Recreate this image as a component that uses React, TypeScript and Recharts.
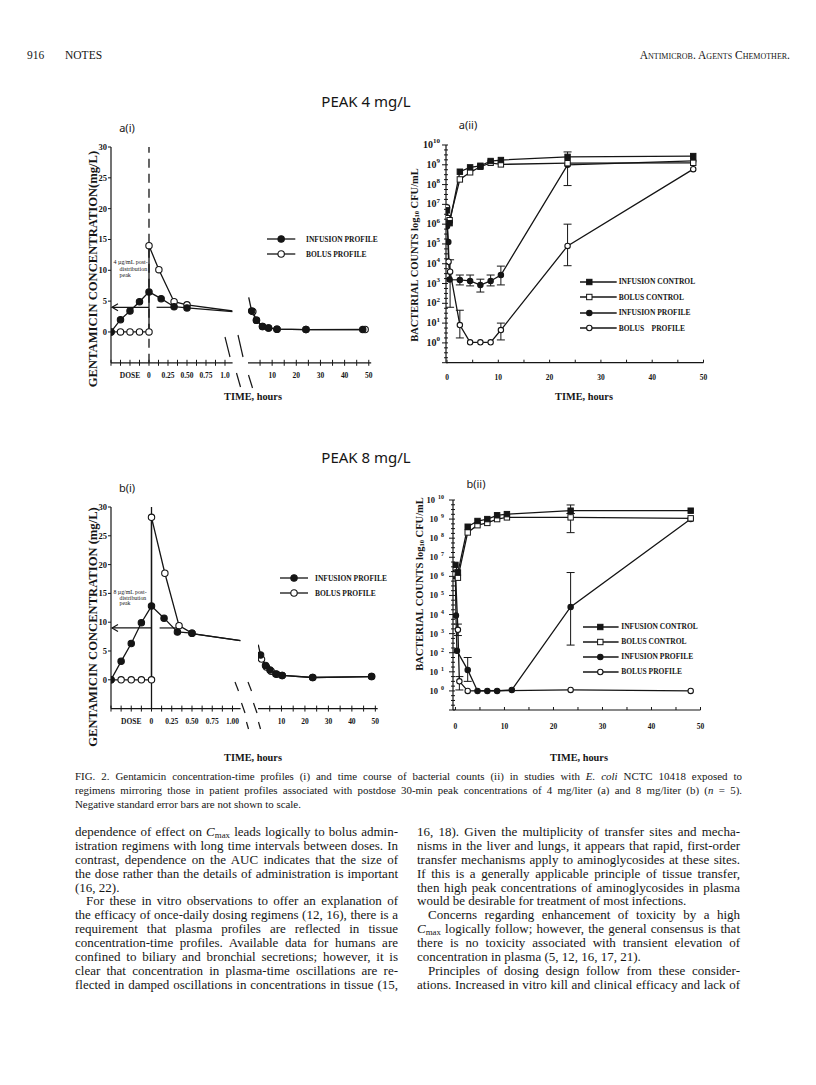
import React from 'react';
import { LineChart, Line, XAxis, YAxis, ReferenceLine, ErrorBar, Legend } from 'recharts';

const INK = '#151515';
const SERIF = '"Liberation Serif", "Times New Roman", serif';
const SANS = '"Noto Sans", "DejaVu Sans", sans-serif';

const INF_P = 'INFUSION PROFILE';
const BOL_P = 'BOLUS PROFILE';
const INF_C = 'INFUSION CONTROL';
const BOL_C = 'BOLUS CONTROL';

// ---- axis ticks / labels ----
const doseTicks = [-0.5, -0.375, -0.25, -0.125, 0, 0.125, 0.25, 0.375, 0.5, 0.625, 0.75, 0.875, 1];
const doseLabelsA = ['', '', 'DOSE', '', '0', '', '0.25', '', '0.50', '', '0.75', '', '1.0'];
const doseLabelsB = ['', '', 'DOSE', '', '0', '', '0.25', '', '0.50', '', '0.75', '', '1.00'];
const lateTicks = [5, 10, 15, 20, 25, 30, 35, 40, 45, 50];
const lateLabels = ['', '10', '', '20', '', '30', '', '40', '', '50'];
const concTicks = [0, 5, 10, 15, 20, 25, 30];
const hourTicks = [0, 5, 10, 15, 20, 25, 30, 35, 40, 45, 50];
const hourLabels = ['0', '', '10', '', '20', '', '30', '', '40', '', '50'];
const logDecades = [-1, 0, 1, 2, 3, 4, 5, 6, 7, 8, 9, 10];
const logTicks = logDecades.flatMap((d) => (d < 10 ? [d, d + 0.25, d + 0.5, d + 0.75] : [d]));

// ---- a(i): gentamicin, 4 mg/L peak (hours) ----
const aInfTimes = [-0.5, -0.375, -0.25, -0.125, 0, 0.16, 0.33, 0.5];
const aInfConc = [0, 2.0, 3.4, 4.9, 6.5, 5.4, 4.1, 3.9];
const aBolTimes = [-0.5, -0.375, -0.25, -0.125, 0, 0, 0.13, 0.33, 0.5];
const aBolConc = [0, 0, 0, 0, 0, 14, 10.1, 4.9, 4.4];
const aTailTimes = [0.5, 1.1];
const aInfTail = [3.9, 3.3];
const aBolTail = [4.4, 3.4];
const aHeadTimes = [0.3, 1.5];
const aHeadConc = [5.6, 3.4];
const aInfLateTimes = [1.5, 3.5, 6, 8.5, 12, 24, 47.5];
const aInfLate = [3.4, 1.9, 0.9, 0.65, 0.45, 0.38, 0.38];
const aBolLateTimes = [2, 3.5, 6, 8.5, 12, 24, 48.5];
const aBolLate = [3.3, 1.9, 0.9, 0.65, 0.45, 0.38, 0.4];
const aPostPeak = 4;

// ---- b(i): gentamicin, 8 mg/L peak ----
const bInfTimes = [-0.5, -0.375, -0.25, -0.125, 0, 0.155, 0.32, 0.5];
const bInfConc = [0, 3.2, 6.3, 9.9, 12.8, 10.7, 8.3, 8.1];
const bBolTimes = [-0.5, -0.375, -0.25, -0.125, 0, 0, 0.165, 0.34, 0.5];
const bBolConc = [0, 0, 0, 0, 0, 28.2, 18.5, 9.4, 8.1];
const bTailTimes = [0.5, 1.1];
const bInfTail = [8.0, 6.8];
const bHeadTimes = [0.1, 1.1];
const bHeadConc = [6.1, 4.3];
const bInfLateTimes = [1.1, 3.2, 5.1, 7.6, 10.3, 23.3, 48.4];
const bInfLate = [4.3, 2.5, 1.7, 1.0, 0.75, 0.4, 0.55];
const bBolLateTimes = [1.5, 3.6, 5.6, 8, 10.3, 23.3, 48.4];
const bBolLate = [3.6, 2.2, 1.5, 0.95, 0.75, 0.4, 0.55];
const bPostPeak = 9;

// ---- a(ii): bacterial counts, log10 CFU/mL ----
const aCtlTimes = [0, 0.5, 2.5, 4.5, 6.5, 8.5, 10.5, 23.5, 48];
const aInfCtl = [6.7, 6.05, 8.65, 8.87, 8.95, 9.19, 9.24, 9.4, 9.44];
const aBolCtl = [6.3, 6.2, 8.26, 8.62, 8.9, 9.1, 9.02, 9.08, 9.1];
const aInfProfTimes = [0, 0.25, 0.5, 2.5, 4.5, 6.5, 8.5, 10.5, 23.5, 48];
const aInfProf = [5.9, 5.1, 3.2, 3.18, 3.13, 2.92, 3.13, 3.43, 9.0, 9.2];
const aInfProfErr = [null, null, null, [0.25, 0.25], [0.25, 0.3], [0.35, 0.3], [0.25, 0.3], [0.5, 0.45], [1.05, 0.65], null];
const aBolProfTimes = [0, 0.3, 0.6, 2.5, 4.5, 6.5, 8.5, 10.5, 23.5, 48];
const aBolProf = [6.85, 4.1, 3.6, 0.9, 0.03, 0.03, 0.03, 0.65, 4.9, 8.78];
const aBolProfErr = [null, null, [1.8, 0.6], [0.65, 0.75], null, null, null, [0.5, 0.35], [1.0, 1.1], null];

// ---- b(ii) ----
const bCtlTimes = [0, 0.5, 2.5, 4.5, 6.5, 8.5, 10.5, 23.5, 48];
const bInfCtl = [6.6, 6.2, 8.6, 8.9, 9.0, 9.2, 9.26, 9.44, 9.44];
const bInfCtlErr = [null, null, null, null, null, null, null, [0.15, 0.3], null];
const bBolCtl = [6.1, 5.93, 8.3, 8.68, 8.8, 9.0, 9.09, 9.09, 9.04];
const bBolCtlErr = [null, null, null, null, null, null, null, [0.8, 0.2], null];
const bInfProfTimes = [0, 0.1, 0.3, 2.5, 4.5, 6.5, 8.5, 11.5, 23.5, 48];
const bInfProf = [6.0, 3.95, 2.1, 1.1, 0, 0, 0, 0.05, 4.4, 9.0];
const bInfProfErr = [null, null, null, [0.6, 0.65], null, null, null, null, [2.0, 1.8], null];
const bBolProfTimes = [0, 0.5, 0.8, 2.5, 23.5, 48];
const bBolProf = [6.2, 3.2, 0.5, 0, 0.05, 0];
const bBolProfErr = [null, [0.3, 0.3], [0.45, 0.25], null, null, null];

// ---- text ----
const captionLines = [
  'FIG. 2. Gentamicin concentration-time profiles (i) and time course of bacterial counts (ii) in studies with *E. coli* NCTC 10418 exposed to',
  'regimens mirroring those in patient profiles associated with postdose 30-min peak concentrations of 4 mg/liter (a) and 8 mg/liter (b) (*n* = 5).',
  'Negative standard error bars are not shown to scale.',
];
const leftColumn = [
  'dependence of effect on C_max leads logically to bolus admin-',
  'istration regimens with long time intervals between doses. In',
  'contrast, dependence on the AUC indicates that the size of',
  'the dose rather than the details of administration is important',
  '(16, 22).',
  'For these in vitro observations to offer an explanation of',
  'the efficacy of once-daily dosing regimens (12, 16), there is a',
  'requirement that plasma profiles are reflected in tissue',
  'concentration-time profiles. Available data for humans are',
  'confined to biliary and bronchial secretions; however, it is',
  'clear that concentration in plasma-time oscillations are re-',
  'flected in damped oscillations in concentrations in tissue (15,',
];
const rightColumn = [
  '16, 18). Given the multiplicity of transfer sites and mecha-',
  'nisms in the liver and lungs, it appears that rapid, first-order',
  'transfer mechanisms apply to aminoglycosides at these sites.',
  'If this is a generally applicable principle of tissue transfer,',
  'then high peak concentrations of aminoglycosides in plasma',
  'would be desirable for treatment of most infections.',
  'Concerns regarding enhancement of toxicity by a high',
  'C_max logically follow; however, the general consensus is that',
  'there is no toxicity associated with transient elevation of',
  'concentration in plasma (5, 12, 16, 17, 21).',
  'Principles of dosing design follow from these consider-',
  'ations. Increased in vitro kill and clinical efficacy and lack of',
];

type Row = { t: number; v: number; err: number[] | null };
const rows = (ts: number[], vs: number[], es?: (number[] | null)[]): Row[] =>
  ts.map((t, i) => ({ t, v: vs[i], err: es ? es[i] : null }));

const seriesKind: Record<string, string> = {
  [INF_P]: 'filled-circle',
  [BOL_P]: 'open-circle',
  [INF_C]: 'filled-square',
  [BOL_C]: 'open-square',
};

const marker = (kind: string, r: number) => (p: any) => {
  const { cx, cy, index } = p;
  const k = `m-${index}`;
  if (cx == null || cy == null) return <g key={k} />;
  const fill = kind.startsWith('filled') ? INK : '#fff';
  if (kind.endsWith('square'))
    return <rect key={k} x={cx - r} y={cy - r} width={r * 2} height={r * 2} fill={fill} stroke={INK} strokeWidth={1} />;
  return <circle key={k} cx={cx} cy={cy} r={r} fill={fill} stroke={INK} strokeWidth={1.1} />;
};

const series = (id: string, name: string, data: Row[], r: number, withErr = false) => (
  <Line
    key={id}
    name={name}
    data={data}
    dataKey="v"
    type="linear"
    stroke={INK}
    strokeWidth={1.3}
    dot={r > 0 ? marker(seriesKind[name], r) : false}
    activeDot={false}
    legendType={r > 0 ? 'line' : 'none'}
    isAnimationActive={false}
  >
    {withErr && <ErrorBar dataKey="err" width={4} stroke={INK} strokeWidth={1} direction="y" />}
  </Line>
);

const axisLine = { stroke: INK, strokeWidth: 1.2 };

const xTick = (ticks: number[], labels: string[], dy: number, font: number, up: number, down: number) => (p: any) => {
  const { x, y, payload } = p;
  const lab = labels[ticks.indexOf(payload.value)] ?? '';
  return (
    <g>
      <line x1={x} y1={y - up} x2={x} y2={y + down} stroke={INK} strokeWidth={1} />
      {lab && (
        <text x={x} y={y + dy} textAnchor="middle" fontFamily={SERIF} fontWeight={700} fontSize={font} fill={INK}>
          {lab}
        </text>
      )}
    </g>
  );
};

const concTick = (p: any) => {
  const { x, y, payload } = p;
  return (
    <g>
      <line x1={x - 3} y1={y} x2={x} y2={y} stroke={INK} strokeWidth={1} />
      <text x={x - 4} y={y + 3} textAnchor="end" fontFamily={SERIF} fontWeight={700} fontSize={8.5} fill={INK}>
        {payload.value}
      </text>
    </g>
  );
};

const logTick = (font: number, gap: number, sep: number) => (p: any) => {
  const { x, y, payload } = p;
  const v = payload.value;
  const major = Number.isInteger(v);
  return (
    <g>
      <line x1={x - (major ? 4 : 2)} y1={y} x2={x + 2} y2={y} stroke={INK} strokeWidth={1} />
      {major && v >= 0 && (
        <text x={x - gap} y={y + 3} textAnchor="end" fontFamily={SERIF} fontWeight={700} fontSize={font} fill={INK}>
          10
          <tspan dx={sep} dy={-font * 0.45} fontSize={font * 0.7}>
            {v}
          </tspan>
        </text>
      )}
    </g>
  );
};

const arrowShape = (p: any) => {
  const x1 = Math.min(p.x1, p.x2);
  const x2 = Math.max(p.x1, p.x2);
  const y = p.y1;
  return (
    <g>
      <line x1={x1 + 1} y1={y} x2={x2} y2={y} stroke={INK} strokeWidth={1.2} />
      <path d={`M${x1 + 7},${y - 3.5} L${x1 + 1},${y} L${x1 + 7},${y + 3.5}`} fill="none" stroke={INK} strokeWidth={1.2} />
    </g>
  );
};

type LegendOpt = { rowH: number; lineW: number; markX: number; r: number; gap: number; font: number; alias?: Record<string, string> };
const legendRenderer = (order: string[], o: LegendOpt) => (props: any) => {
  const seen = new Set<string>();
  const items = (props.payload ?? [])
    .filter((it: any) => it.type !== 'none' && order.includes(it.value))
    .filter((it: any) => (seen.has(it.value) ? false : (seen.add(it.value), true)))
    .sort((a: any, b: any) => order.indexOf(a.value) - order.indexOf(b.value));
  return (
    <div>
      {items.map((it: any) => (
        <div key={it.value} style={{ display: 'flex', alignItems: 'center', height: o.rowH }}>
          <svg width={o.lineW} height={10} style={{ overflow: 'visible' }}>
            <line x1={0} y1={5} x2={o.lineW} y2={5} stroke={INK} strokeWidth={1.3} />
            {marker(seriesKind[it.value], o.r)({ cx: o.markX, cy: 5, index: 0 })}
          </svg>
          <span style={{ marginLeft: o.gap, fontFamily: SERIF, fontWeight: 700, fontSize: o.font, color: INK, whiteSpace: 'pre' }}>
            {o.alias?.[it.value] ?? it.value}
          </span>
        </div>
      ))}
    </div>
  );
};

type Box = { left: number; top: number; w: number; h: number };
const PAD = 14;
const X_H = 30;

function Frame({ box, yW, children }: { box: Box; yW: number; children: React.ReactNode }) {
  return (
    <div style={{ position: 'absolute', left: box.left - yW, top: box.top - PAD }}>
      <LineChart width={yW + box.w + 6} height={PAD + box.h + X_H} margin={{ top: PAD, right: 6, bottom: 0, left: 0 }}>
        {children}
      </LineChart>
    </div>
  );
}

// plot boxes (page pixels)
const boxAiL: Box = { left: 110.7, top: 146.7, w: 121.6, h: 215.8 };
const boxAiR: Box = { left: 247.5, top: 146.7, w: 123.2, h: 215.8 };
const boxBiL: Box = { left: 111.2, top: 506.7, w: 129.6, h: 201.6 };
const boxBiR: Box = { left: 258, top: 506.7, w: 119.7, h: 201.6 };
const boxAii: Box = { left: 445.7, top: 145, w: 257.5, h: 217.7 };
const boxBii: Box = { left: 452.5, top: 500, w: 247.5, h: 210 };

const concLegend = [INF_P, BOL_P];
const countLegend = [INF_C, BOL_C, INF_P, BOL_P];

function rich(text: string) {
  return text
    .split(/(\*[^*]+\*|C_max)/)
    .filter((s) => s.length > 0)
    .map((s, i) => {
      if (s === 'C_max')
        return (
          <span key={i}>
            <i>C</i>
            <span style={{ fontSize: '0.68em', verticalAlign: '-0.18em', lineHeight: 0 }}>max</span>
          </span>
        );
      if (s.startsWith('*')) return <i key={i}>{s.slice(1, -1)}</i>;
      return <span key={i}>{s}</span>;
    });
}

function TextBlock({ x, top, step, width, size, lines, ends, indents }: {
  x: number; top: number; step: number; width: number; size: number; lines: string[]; ends: number[]; indents: number[];
}) {
  return (
    <div style={{ position: 'absolute', left: x, top, width, fontFamily: SERIF, fontSize: size, color: INK }}>
      {lines.map((ln, i) => {
        const justify = !ends.includes(i);
        return (
          <div key={i} style={{
            height: step, lineHeight: `${step}px`, whiteSpace: 'nowrap',
            paddingLeft: indents.includes(i) ? 11 : 0,
            textAlign: justify ? 'justify' : 'left', textAlignLast: justify ? 'justify' : 'left',
          }}>
            {rich(ln)}
          </div>
        );
      })}
    </div>
  );
}

function ConcLeft({ box, labels, inf, bol, infTail, bolTail, peak, dashedZero, peakTo }: any) {
  return (
    <Frame box={box} yW={34}>
      <XAxis type="number" dataKey="t" domain={[-0.5, 1.1]} ticks={doseTicks} interval={0} allowDataOverflow height={X_H}
        tickSize={0} tickMargin={0} tickLine={false} axisLine={axisLine} tick={xTick(doseTicks, labels, 15.5, 7.5, 3, 3)} />
      <YAxis type="number" domain={[-5, 30]} ticks={concTicks} interval={0} allowDataOverflow width={34}
        tickSize={0} tickMargin={0} tickLine={false} axisLine={axisLine} tick={concTick} />
      <ReferenceLine x={0} stroke={INK} strokeWidth={1.3} strokeDasharray={dashedZero ? '9 6' : undefined} />
      <ReferenceLine segment={[{ x: -0.5, y: peak }, { x: 0, y: peak }]} shape={arrowShape} />
      <ReferenceLine segment={[{ x: 0.1, y: peak }, { x: peakTo, y: peak }]} stroke={INK} strokeWidth={1.2} />
      {series('bt', 'bolus tail', bolTail, 0)}
      {series('it', 'infusion tail', infTail, 0)}
      {series('b', BOL_P, bol, 3.2)}
      {series('i', INF_P, inf, 3.2)}
    </Frame>
  );
}

function ConcRight({ box, head, inf, bol, legendAt, lineW, gap }: any) {
  return (
    <Frame box={box} yW={0}>
      <XAxis type="number" dataKey="t" domain={[0, 51]} ticks={lateTicks} interval={0} allowDataOverflow height={X_H}
        tickSize={0} tickMargin={0} tickLine={false} axisLine={axisLine} tick={xTick(lateTicks, lateLabels, 15.5, 7.5, 3, 3)} />
      <YAxis type="number" domain={[-5, 30]} hide allowDataOverflow />
      {series('h', 'head', head, 0)}
      {series('b', BOL_P, bol, 3.2)}
      {series('i', INF_P, inf, 3.2)}
      <Legend layout="vertical" align="center" verticalAlign="middle"
        wrapperStyle={{ left: legendAt[0] - box.left, top: legendAt[1] - box.top + PAD, width: 'auto' }}
        content={legendRenderer(concLegend, { rowH: 15, lineW, markX: lineW / 2, r: 3.2, gap, font: 7.5 })} />
    </Frame>
  );
}

function CountChart({ box, xMin, tickDy, yFont, yGap, ySep, infCtl, bolCtl, infProf, bolProf, legendAt, legend }: any) {
  return (
    <Frame box={box} yW={36}>
      <XAxis type="number" dataKey="t" domain={[xMin, 50]} ticks={hourTicks} interval={0} allowDataOverflow height={X_H}
        tickSize={0} tickMargin={0} tickLine={false} axisLine={axisLine} tick={xTick(hourTicks, hourLabels, tickDy, 7.5, 3, 0)} />
      <YAxis type="number" domain={[-1, 10]} ticks={logTicks} interval={0} allowDataOverflow width={36}
        tickSize={0} tickMargin={0} tickLine={false} axisLine={axisLine} tick={logTick(yFont, yGap, ySep)} />
      {series('bp', BOL_P, bolProf, 2.7, true)}
      {series('ip', INF_P, infProf, 2.7, true)}
      {series('bc', BOL_C, bolCtl, 2.7, true)}
      {series('ic', INF_C, infCtl, 2.7, true)}
      <Legend layout="vertical" align="center" verticalAlign="middle"
        wrapperStyle={{ left: legendAt[0] - box.left + 36, top: legendAt[1] - box.top + PAD, width: 'auto' }}
        content={legendRenderer(countLegend, legend)} />
    </Frame>
  );
}

const title = (x: number, y: number, s: string, size: number) => (
  <text x={x} y={y} textAnchor="middle" fontFamily={SANS} fontSize={size} fill={INK}>{s}</text>
);
const vTitle = (cx: number, cy: number, size: number, body: React.ReactNode) => (
  <text transform={`translate(${cx},${cy}) rotate(-90)`} textAnchor="middle" dominantBaseline="central"
    fontFamily={SERIF} fontWeight={700} fontSize={size} fill={INK}>{body}</text>
);
const hTitle = (cx: number, cy: number) => (
  <text x={cx} y={cy} textAnchor="middle" dominantBaseline="central" fontFamily={SERIF} fontWeight={700} fontSize={10.3} fill={INK}>
    TIME, hours
  </text>
);
const countsTitle = (
  <>
    BACTERIAL COUNTS log<tspan fontSize={6.5} dy={2}>10</tspan>
    <tspan dy={-2}> CFU/mL</tspan>
  </>
);
const breakMark = (x1: number, y1: number, x2: number, y2: number, k: string) => (
  <line key={k} x1={x1} y1={y1} x2={x2} y2={y2} stroke={INK} strokeWidth={1.2} />
);
const note = (x: number, y: number, first: string, size: number, step: number) => (
  <g fontFamily={SERIF} fontSize={size} fill={INK}>
    <text x={x} y={y}>{first}</text>
    <text x={x + 6} y={y + step}>distribution</text>
    <text x={x + 6} y={y + step * 2}>peak</text>
  </g>
);

export default function App() {
  return (
    <div style={{ position: 'absolute', left: 0, top: 0, width: 816, height: 1085, background: '#fff', overflow: 'hidden' }}>
      <ConcLeft box={boxAiL} labels={doseLabelsA} inf={rows(aInfTimes, aInfConc)} bol={rows(aBolTimes, aBolConc)}
        infTail={rows(aTailTimes, aInfTail)} bolTail={rows(aTailTimes, aBolTail)} peak={aPostPeak} peakTo={0.33} dashedZero />
      <ConcRight box={boxAiR} head={rows(aHeadTimes, aHeadConc)} inf={rows(aInfLateTimes, aInfLate)} bol={rows(aBolLateTimes, aBolLate)}
        legendAt={[266.7, 231.8]} lineW={28.3} gap={11} />
      <ConcLeft box={boxBiL} labels={doseLabelsB} inf={rows(bInfTimes, bInfConc)} bol={rows(bBolTimes, bBolConc)}
        infTail={rows(bTailTimes, bInfTail)} bolTail={rows(bTailTimes, bInfTail)} peak={bPostPeak} peakTo={0.32} dashedZero={false} />
      <ConcRight box={boxBiR} head={rows(bHeadTimes, bHeadConc)} inf={rows(bInfLateTimes, bInfLate)} bol={rows(bBolLateTimes, bBolLate)}
        legendAt={[280, 570.8]} lineW={28} gap={7} />
      <CountChart box={boxAii} xMin={-0.2} tickDy={17} yFont={10} yGap={6} ySep={0}
        infCtl={rows(aCtlTimes, aInfCtl)} bolCtl={rows(aCtlTimes, aBolCtl)}
        infProf={rows(aInfProfTimes, aInfProf, aInfProfErr)} bolProf={rows(aBolProfTimes, aBolProf, aBolProfErr)}
        legendAt={[580, 274]} legend={{ rowH: 15.5, lineW: 36.7, markX: 9.3, r: 2.7, gap: 2, font: 7.5, alias: { [BOL_P]: 'BOLUS    PROFILE' } }} />
      <CountChart box={boxBii} xMin={-0.5} tickDy={19} yFont={8.5} yGap={9} ySep={3}
        infCtl={rows(bCtlTimes, bInfCtl, bInfCtlErr)} bolCtl={rows(bCtlTimes, bBolCtl, bBolCtlErr)}
        infProf={rows(bInfProfTimes, bInfProf, bInfProfErr)} bolProf={rows(bBolProfTimes, bBolProf, bBolProfErr)}
        legendAt={[582.7, 619.2]} legend={{ rowH: 15, lineW: 35.6, markX: 17.3, r: 2.7, gap: 3, font: 7.5 }} />

      <svg width={816} height={1085} style={{ position: 'absolute', left: 0, top: 0, pointerEvents: 'none' }}>
        {/* running head */}
        <text x={27} y={59} fontFamily={SERIF} fontSize={11.5} fill={INK}>916</text>
        <text x={65} y={59} fontFamily={SERIF} fontSize={11.5} fill={INK}>NOTES</text>
        <text x={790} y={59} textAnchor="end" fontFamily={SERIF} fontSize={11.5} fill={INK} style={{ fontVariant: 'small-caps' }}>
          Antimicrob. Agents Chemother.
        </text>

        {title(366, 107, 'PEAK 4 mg/L', 15)}
        {title(366, 463, 'PEAK 8 mg/L', 15)}
        {title(127, 132, 'a(i)', 11)}
        {title(468, 129, 'a(ii)', 11)}
        {title(127, 492, 'b(i)', 11)}
        {title(476, 488, 'b(ii)', 11)}

        {vTitle(93, 269, 12.6, 'GENTAMICIN CONCENTRATION(mg/L)')}
        {vTitle(93, 627, 12.6, 'GENTAMICIN CONCENTRATION (mg/L)')}
        {vTitle(414, 255, 10.5, countsTitle)}
        {vTitle(419, 584, 10.5, countsTitle)}
        {hTitle(253, 396)}
        {hTitle(584, 396)}
        {hTitle(253, 757)}
        {hTitle(579, 757)}

        {note(113.5, 264, '4 µg/mL post-', 6, 6.5)}
        {note(113.5, 594, '8 µg/mL post-', 5.8, 5.5)}

        {breakMark(225, 337, 230, 357, 'a1')}
        {breakMark(238, 335, 243, 357, 'a2')}
        {breakMark(236.5, 373, 240.5, 387, 'a3')}
        {breakMark(248.5, 375, 252.5, 388, 'a4')}
        {breakMark(235, 682, 238.5, 691, 'b1')}
        {breakMark(248, 682, 251.5, 691, 'b2')}
        {breakMark(241.5, 703, 245, 713, 'b3')}
        {breakMark(253.5, 703, 257, 713, 'b4')}
        {breakMark(246.5, 722, 248.5, 729, 'b5')}
        {breakMark(258.5, 722, 260.5, 729, 'b6')}
      </svg>

      <TextBlock x={75} top={769} step={14} width={667} size={10.9} lines={captionLines} ends={[2]} indents={[]} />
      <TextBlock x={75} top={825} step={13.9} width={323} size={13} lines={leftColumn} ends={[4]} indents={[5]} />
      <TextBlock x={417} top={825} step={13.9} width={323} size={13} lines={rightColumn} ends={[5, 9]} indents={[6, 10]} />
    </div>
  );
}
